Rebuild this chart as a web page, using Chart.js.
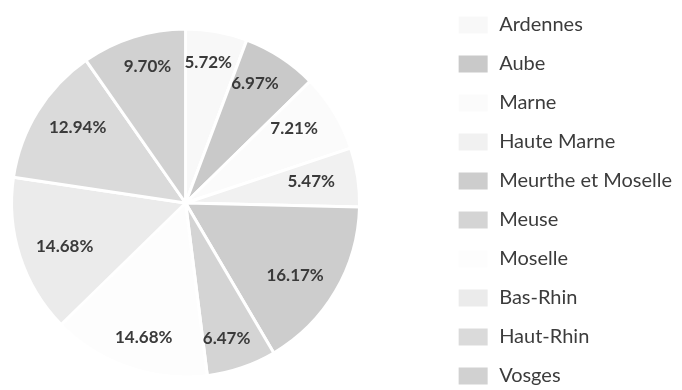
<!DOCTYPE html>
<html>
<head>
<meta charset="utf-8">
<script src="https://cdn.jsdelivr.net/npm/chart.js@4.4.1/dist/chart.umd.min.js"></script>
<style>
  html, body { margin: 0; padding: 0; background: #fff; }
  #wrap { position: relative; width: 682px; height: 390px; overflow: hidden; }
  /* canvas is a bit larger than the frame so the pie sits left of centre */
  #pie { position: absolute; left: -70px; top: -4px; }
</style>
</head>
<body>
<div id="wrap"><canvas id="pie" width="752" height="414"></canvas></div>
<script>
const departements = ['Ardennes', 'Aube', 'Marne', 'Haute Marne', 'Meurthe et Moselle', 'Meuse', 'Moselle', 'Bas-Rhin', 'Haut-Rhin', 'Vosges'];
const shares = [5.72, 6.97, 7.21, 5.47, 16.17, 6.47, 14.68, 14.68, 12.94, 9.70];

const greys = ['#f8f8f8', '#c9c9c9', '#fbfbfb', '#f1f1f1', '#cdcdcd', '#d4d4d4', '#fdfdfd', '#ebebeb', '#dadada', '#d1d1d1'];

// percentage text inside each slice, pushed towards the rim on an ellipse
const sliceLabels = {
  id: 'sliceLabels',
  afterDatasetsDraw(chart) {
    const ctx = chart.ctx;
    const values = chart.data.datasets[0].data;
    ctx.save();
    ctx.font = 'bold 17px Lato';
    ctx.fillStyle = '#3a3a3a';
    ctx.textAlign = 'center';
    ctx.textBaseline = 'middle';
    chart.getDatasetMeta(0).data.forEach((arc, i) => {
      const { x, y, startAngle, endAngle, outerRadius } =
        arc.getProps(['x', 'y', 'startAngle', 'endAngle', 'outerRadius'], true);
      const mid = (startAngle + endAngle) / 2;
      const px = x + Math.cos(mid) * outerRadius * 0.73;
      const py = y + Math.sin(mid) * outerRadius * 0.82;
      ctx.fillText(values[i].toFixed(2) + '%', px, py);
    });
    ctx.restore();
  }
};

Chart.defaults.font.family = 'Lato';

new Chart(document.getElementById('pie'), {
  type: 'pie',
  data: {
    labels: departements,
    datasets: [{
      data: shares,
      backgroundColor: greys,
      borderColor: '#ffffff',
      borderWidth: 3
    }]
  },
  options: {
    responsive: false,
    animation: false,
    radius: 174,
    layout: { padding: { left: 3, right: 0, top: 0, bottom: 0 } },
    plugins: {
      tooltip: { enabled: false },
      legend: {
        position: 'right',
        align: 'start',
        labels: {
          boxWidth: 32,
          boxHeight: 20,
          padding: 19,
          color: '#3c3c3c',
          font: { size: 20, family: 'Lato' }
        }
      }
    }
  },
  plugins: [sliceLabels]
});
</script>
</body>
</html>
